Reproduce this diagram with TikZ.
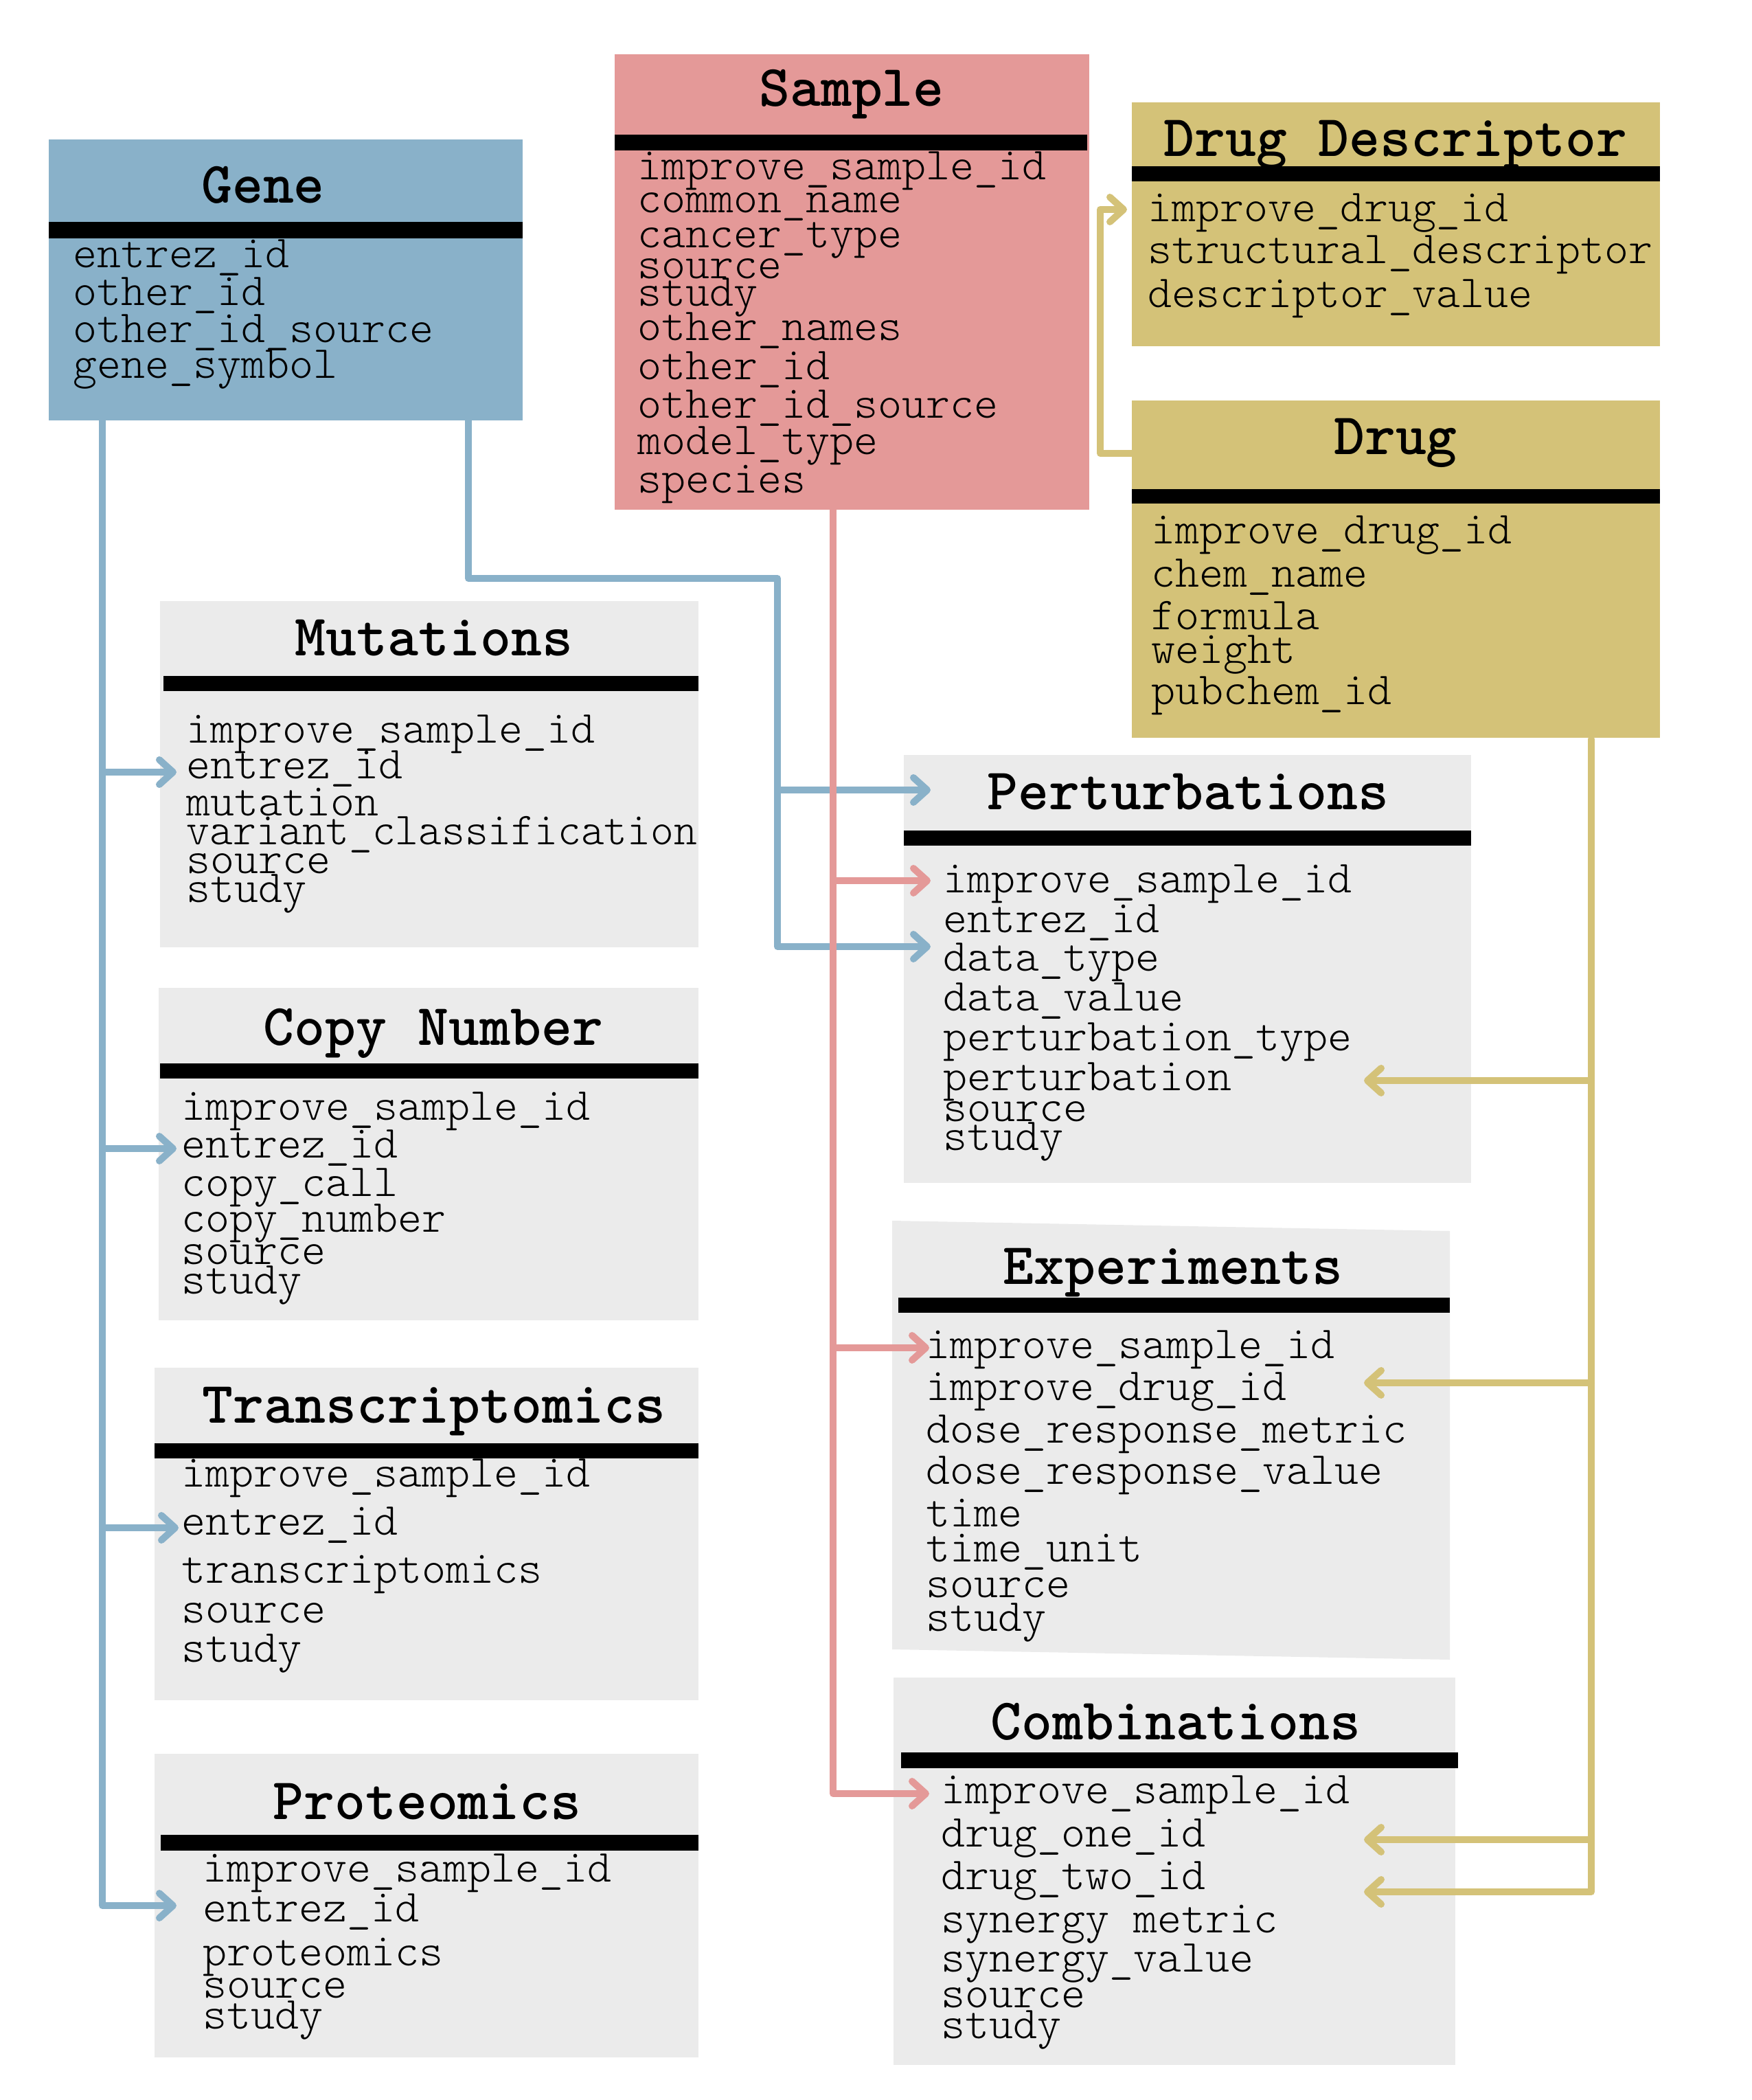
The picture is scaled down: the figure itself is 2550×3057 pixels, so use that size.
\documentclass[tikz,border=0pt]{standalone}
\usetikzlibrary{arrows.meta,fit}
\definecolor{genec}{HTML}{89B1C9}
\definecolor{samplec}{HTML}{E49998}
\definecolor{drugc}{HTML}{D4C278}
\definecolor{tablec}{HTML}{EBEBEB}
\tikzset{
  tbox/.style={inner sep=0pt, outer sep=0pt, draw=none},
  bar/.style={fill=black},
  field/.style={font={\ttfamily\fontseries{l}\fontsize{16.67pt}{18pt}\selectfont}, inner sep=0pt, anchor=base west},
  ttitle/.style={font={\ttfamily\bfseries\fontsize{21.4pt}{24pt}\selectfont}, inner sep=0pt, anchor=base},
  link/.style={line width=2.5pt, line cap=round, line join=round},
  tipped/.style={-{Straight Barb[length=5pt,width=9pt,round]}},
}
\begin{document}
\begin{tikzpicture}[x=0.25pt,y=-0.25pt]
\useasboundingbox (0,0) rectangle (2550,3057);

% ---------- Gene ----------
\node[tbox, fill=genec, fit={(71,203)(761,612)}] (gene) {};
\fill[bar] (71,323) rectangle (761,347);
\node[ttitle] (gene-t) at (383,296) {Gene};
\foreach \t/\y [count=\i] in {entrez\_id/390, other\_id/445, other\_id\_source/499, gene\_symbol/551}
  \node[field] (gene-f\i) at (106,\y) {\t};

% ---------- Sample ----------
\node[tbox, fill=samplec, fit={(895,79)(1586,742)}] (sample) {};
\fill[bar] (895,196) rectangle (1583,219);
\node[ttitle] (sample-t) at (1240,155) {Sample};
\foreach \t/\y [count=\i] in {improve\_sample\_id/262, common\_name/310, cancer\_type/361, source/406, study/446, other\_names/496, other\_id/553, other\_id\_source/609, model\_type/662, species/718}
  \node[field] (sample-f\i) at (928,\y) {\t};

% ---------- Drug Descriptor ----------
\node[tbox, fill=drugc, fit={(1648,149)(2417,504)}] (desc) {};
\fill[bar] (1648,242) rectangle (2417,264);
\node[ttitle] (desc-t) at (2032,228) {Drug Descriptor};
\foreach \t/\y [count=\i] in {improve\_drug\_id/323, structural\_descriptor/384, descriptor\_value/448}
  \node[field] (desc-f\i) at (1671,\y) {\t};

% ---------- Drug ----------
\node[tbox, fill=drugc, fit={(1648,583)(2417,1074)}] (drug) {};
\fill[bar] (1648,712) rectangle (2417,733);
\node[ttitle] (drug-t) at (2032,662) {Drug};
\foreach \t/\y [count=\i] in {improve\_drug\_id/792, chem\_name/855, formula/917, weight/966, pubchem\_id/1026}
  \node[field] (drug-f\i) at (1676,\y) {\t};

% ---------- Mutations ----------
\node[tbox, fill=tablec, fit={(233,875)(1017,1379)}] (mut) {};
\fill[bar] (238,984) rectangle (1017,1006);
\node[ttitle] (mut-t) at (632,955) {Mutations};
\foreach \t/\y [count=\i] in {improve\_sample\_id/1081, entrez\_id/1134, mutation/1187, {\scalebox{0.965}[1]{variant\_classification}}/1229, source/1271, study/1313}
  \node[field] (mut-f\i) at (271,\y) {\t};

% ---------- Copy Number ----------
\node[tbox, fill=tablec, fit={(231,1438)(1017,1922)}] (cn) {};
\fill[bar] (233,1548) rectangle (1017,1570);
\node[ttitle] (cn-t) at (631,1521) {Copy Number};
\foreach \t/\y [count=\i] in {improve\_sample\_id/1630, entrez\_id/1685, copy\_call/1741, copy\_number/1793, source/1840, study/1883}
  \node[field] (cn-f\i) at (264,\y) {\t};

% ---------- Transcriptomics ----------
\node[tbox, fill=tablec, fit={(225,1991)(1017,2475)}] (tr) {};
\fill[bar] (225,2101) rectangle (1017,2123);
\node[ttitle] (tr-t) at (632,2071) {Transcriptomics};
\foreach \t/\y [count=\i] in {improve\_sample\_id/2164, entrez\_id/2234, transcriptomics/2304, source/2362, study/2419}
  \node[field] (tr-f\i) at (264,\y) {\t};

% ---------- Proteomics ----------
\node[tbox, fill=tablec, fit={(225,2553)(1017,2995)}] (pr) {};
\fill[bar] (234,2671) rectangle (1017,2694);
\node[ttitle] (pr-t) at (622,2648) {Proteomics};
\foreach \t/\y [count=\i] in {improve\_sample\_id/2739, entrez\_id/2797, proteomics/2861, source/2908, study/2953}
  \node[field] (pr-f\i) at (295,\y) {\t};

% ---------- Perturbations ----------
\node[tbox, fill=tablec, fit={(1316,1099)(2142,1722)}] (pert) {};
\fill[bar] (1316,1209) rectangle (2142,1231);
\node[ttitle] (pert-t) at (1730,1178) {Perturbations};
\foreach \t/\y [count=\i] in {improve\_sample\_id/1299, entrez\_id/1357, data\_type/1413, data\_value/1471, perturbation\_type/1529, perturbation/1587, source/1632, study/1674}
  \node[field] (pert-f\i) at (1373,\y) {\t};

% ---------- Experiments ----------
\fill[tablec] (1299,1777) -- (2111,1792) -- (2111,2416) -- (1299,2401) -- cycle;
\fill[bar] (1308,1889) rectangle (2111,1911);
\node[ttitle] (exp-t) at (1708,1869) {Experiments};
\foreach \t/\y [count=\i] in {improve\_sample\_id/1977, improve\_drug\_id/2038, dose\_response\_metric/2100, dose\_response\_value/2160, time/2222, time\_unit/2273, source/2325, study/2374}
  \node[field] (exp-f\i) at (1348,\y) {\t};

% ---------- Combinations ----------
\node[tbox, fill=tablec, fit={(1301,2442)(2119,3006)}] (comb) {};
\fill[bar] (1312,2551) rectangle (2123,2574);
\node[ttitle] (comb-t) at (1712,2532) {Combinations};
\foreach \t/\y [count=\i] in {improve\_sample\_id/2625, drug\_one\_id/2688, drug\_two\_id/2750, synergy metric/2813, synergy\_value/2870, source/2922, study/2967}
  \node[field] (comb-f\i) at (1370,\y) {\t};

% ---------- connector points ----------
\coordinate (gA) at (149,612);
\coordinate (gAm) at (149,1124);
\coordinate (gAc) at (149,1672);
\coordinate (gAt) at (149,2224);
\coordinate (gAp) at (149,2774);
\coordinate (tMut) at (257,1124);
\coordinate (tCn) at (257,1672);
\coordinate (tTr) at (260,2224);
\coordinate (tPr) at (257,2774);

\coordinate (gB) at (682,612);
\coordinate (gB1) at (682,842);
\coordinate (gB2) at (1132,842);
\coordinate (gB3) at (1132,1378);
\coordinate (gBt) at (1132,1150);
\coordinate (tPertT) at (1355,1150);
\coordinate (tPertD) at (1355,1378);

\coordinate (sA) at (1213,742);
\coordinate (sAp) at (1213,1282);
\coordinate (sAe) at (1213,1962);
\coordinate (sAc) at (1213,2611);
\coordinate (tPertS) at (1355,1282);
\coordinate (tExpS) at (1353,1962);
\coordinate (tCombS) at (1353,2611);

\coordinate (dA) at (1648,660);
\coordinate (dA1) at (1602,660);
\coordinate (dA2) at (1602,305);
\coordinate (tDesc) at (1641,305);

\coordinate (dB) at (2317,1076);
\coordinate (dBp) at (2317,1573);
\coordinate (dBe) at (2317,2013);
\coordinate (dB1) at (2317,2678);
\coordinate (dB2) at (2317,2754);
\coordinate (tPertP) at (1986,1573);
\coordinate (tExpD) at (1986,2013);
\coordinate (tComb1) at (1986,2678);
\coordinate (tComb2) at (1986,2754);

% ---------- blue connectors ----------
\begin{scope}[link, draw=genec]
  \draw[tipped] (gA) -- (gAp) -- (tPr);
  \draw[tipped] (gAm) -- (tMut);
  \draw[tipped] (gAc) -- (tCn);
  \draw[tipped] (gAt) -- (tTr);
  \draw[tipped] (gB) -- (gB1) -- (gB2) -- (gB3) -- (tPertD);
  \draw[tipped] (gBt) -- (tPertT);
\end{scope}

% ---------- pink connectors ----------
\begin{scope}[link, draw=samplec]
  \draw[tipped] (sA) -- (sAc) -- (tCombS);
  \draw[tipped] (sAp) -- (tPertS);
  \draw[tipped] (sAe) -- (tExpS);
\end{scope}

% ---------- yellow connectors ----------
\begin{scope}[link, draw=drugc]
  \draw[tipped] (dA) -- (dA1) -- (dA2) -- (tDesc);
  \draw[tipped] (dB) -- (dB2) -- (tComb2);
  \draw[tipped] (dBp) -- (tPertP);
  \draw[tipped] (dBe) -- (tExpD);
  \draw[tipped] (dB1) -- (tComb1);
\end{scope}
\end{tikzpicture}
\end{document}
